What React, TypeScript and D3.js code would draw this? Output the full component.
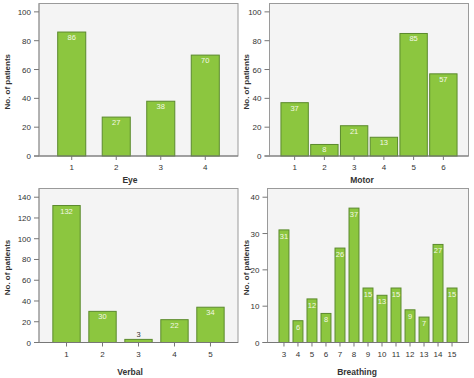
import React from "react";
import * as d3 from "d3";

const eyeCategories = ["1", "2", "3", "4"];
const eyeValues = [86, 27, 38, 70];

const motorCategories = ["1", "2", "3", "4", "5", "6"];
const motorValues = [37, 8, 21, 13, 85, 57];

const verbalCategories = ["1", "2", "3", "4", "5"];
const verbalValues = [132, 30, 3, 22, 34];

const breathingCategories = ["3", "4", "5", "6", "7", "8", "9", "10", "11", "12", "13", "14", "15"];
const breathingValues = [31, 6, 12, 8, 26, 37, 15, 13, 15, 9, 7, 27, 15];

const yTicks100 = [0, 20, 40, 60, 80, 100];
const yTicks140 = [0, 20, 40, 60, 80, 100, 120, 140];
const yTicks40 = [0, 10, 20, 30, 40];

const FONT = "'Liberation Sans', Arial, Helvetica, sans-serif";
const BAR_FILL = "#8cc63f";
const BAR_STROKE = "#5b8a2d";
const PLOT_BG = "#f4f4f4";
const FRAME = "#9a9a9a";
const TEXT = "#333333";

type PanelProps = {
  categories: string[];
  values: number[];
  ticks: number[];
  yMax: number;
  title: string;
  left: number;
  right: number;
  top: number;
  zero: number;
  padInner: number;
  padOuter: number;
  titleX: number;
  titleY: number;
  yTitleX: number;
  labelDy: number;
};

function Panel(p: PanelProps) {
  const x = d3
    .scaleBand<string>()
    .domain(p.categories)
    .range([p.left, p.right])
    .paddingInner(p.padInner)
    .paddingOuter(p.padOuter);
  const y = d3.scaleLinear().domain([0, p.yMax]).range([p.zero, p.top]);
  const bw = x.bandwidth();
  const yMid = (p.top + p.zero) / 2 + 2;

  return (
    <g>
      <rect x={p.left} y={p.top} width={p.right - p.left} height={p.zero - p.top} fill={PLOT_BG} stroke={FRAME} strokeWidth={1} />
      {p.categories.map((c, i) => {
        const v = p.values[i];
        const bx = x(c) as number;
        const by = y(v);
        const inside = p.zero - by > 8;
        return (
          <g key={c}>
            <rect x={bx} y={by} width={bw} height={p.zero - by} fill={BAR_FILL} stroke={BAR_STROKE} strokeWidth={1} />
            <text
              x={bx + bw / 2}
              y={inside ? by + p.labelDy : by - 2}
              textAnchor="middle"
              fontSize={7.5}
              fontFamily={FONT}
              fill={inside ? "#f4f8e6" : TEXT}
            >
              {v}
            </text>
          </g>
        );
      })}
      {/* x axis */}
      <line x1={p.left - 5} x2={p.right} y1={p.zero} y2={p.zero} stroke="#777" strokeWidth={1} />
      {p.categories.map((c) => {
        const cx = (x(c) as number) + bw / 2;
        return (
          <g key={"xt" + c}>
            <line x1={cx} x2={cx} y1={p.zero} y2={p.zero + 4} stroke="#777" strokeWidth={1} />
            <text x={cx} y={p.zero + 14} textAnchor="middle" fontSize={8} fontFamily={FONT} fill={TEXT}>
              {c}
            </text>
          </g>
        );
      })}
      {/* y axis */}
      <line x1={p.left} x2={p.left} y1={p.top} y2={p.zero} stroke={FRAME} strokeWidth={1} />
      {p.ticks.map((t) => (
        <g key={"yt" + t}>
          <line x1={p.left - 5} x2={p.left} y1={y(t)} y2={y(t)} stroke="#777" strokeWidth={1} />
          <text x={p.left - 8} y={y(t) + 3} textAnchor="end" fontSize={8} fontFamily={FONT} fill={TEXT}>
            {t}
          </text>
        </g>
      ))}
      <text
        transform={`translate(${p.yTitleX},${yMid}) rotate(-90)`}
        textAnchor="middle"
        fontSize={8}
        fontWeight="bold"
        fontFamily={FONT}
        fill={TEXT}
        dy="0.35em"
      >
        No. of patients
      </text>
      <text x={p.titleX} y={p.titleY} textAnchor="middle" fontSize={8.5} fontWeight="bold" fontFamily={FONT} fill={TEXT}>
        {p.title}
      </text>
    </g>
  );
}

export default function App() {
  return (
    <svg width={474} height={378} style={{ position: "absolute", left: 0, top: 0, background: "#ffffff" }}>
      <Panel
        categories={eyeCategories}
        values={eyeValues}
        ticks={yTicks100}
        yMax={105.8}
        title="Eye"
        left={39}
        right={238}
        top={3.5}
        zero={156}
        padInner={0.37}
        padOuter={0.42}
        titleX={130}
        titleY={183}
        yTitleX={7}
        labelDy={8}
      />
      <Panel
        categories={motorCategories}
        values={motorValues}
        ticks={yTicks100}
        yMax={105.8}
        title="Motor"
        left={269.5}
        right={468.5}
        top={3.5}
        zero={156}
        padInner={0.08}
        padOuter={0.385}
        titleX={362}
        titleY={183}
        yTitleX={246}
        labelDy={8}
      />
      <Panel
        categories={verbalCategories}
        values={verbalValues}
        ticks={yTicks140}
        yMax={148.4}
        title="Verbal"
        left={39}
        right={238}
        top={188.5}
        zero={342.5}
        padInner={0.24}
        padOuter={0.385}
        titleX={130}
        titleY={375}
        yTitleX={7}
        labelDy={8}
      />
      <Panel
        categories={breathingCategories}
        values={breathingValues}
        ticks={yTicks40}
        yMax={42.4}
        title="Breathing"
        left={267.5}
        right={468.5}
        top={188.5}
        zero={342.5}
        padInner={0.29}
        padOuter={0.82}
        titleX={357}
        titleY={375}
        yTitleX={246}
        labelDy={9}
      />
    </svg>
  );
}
